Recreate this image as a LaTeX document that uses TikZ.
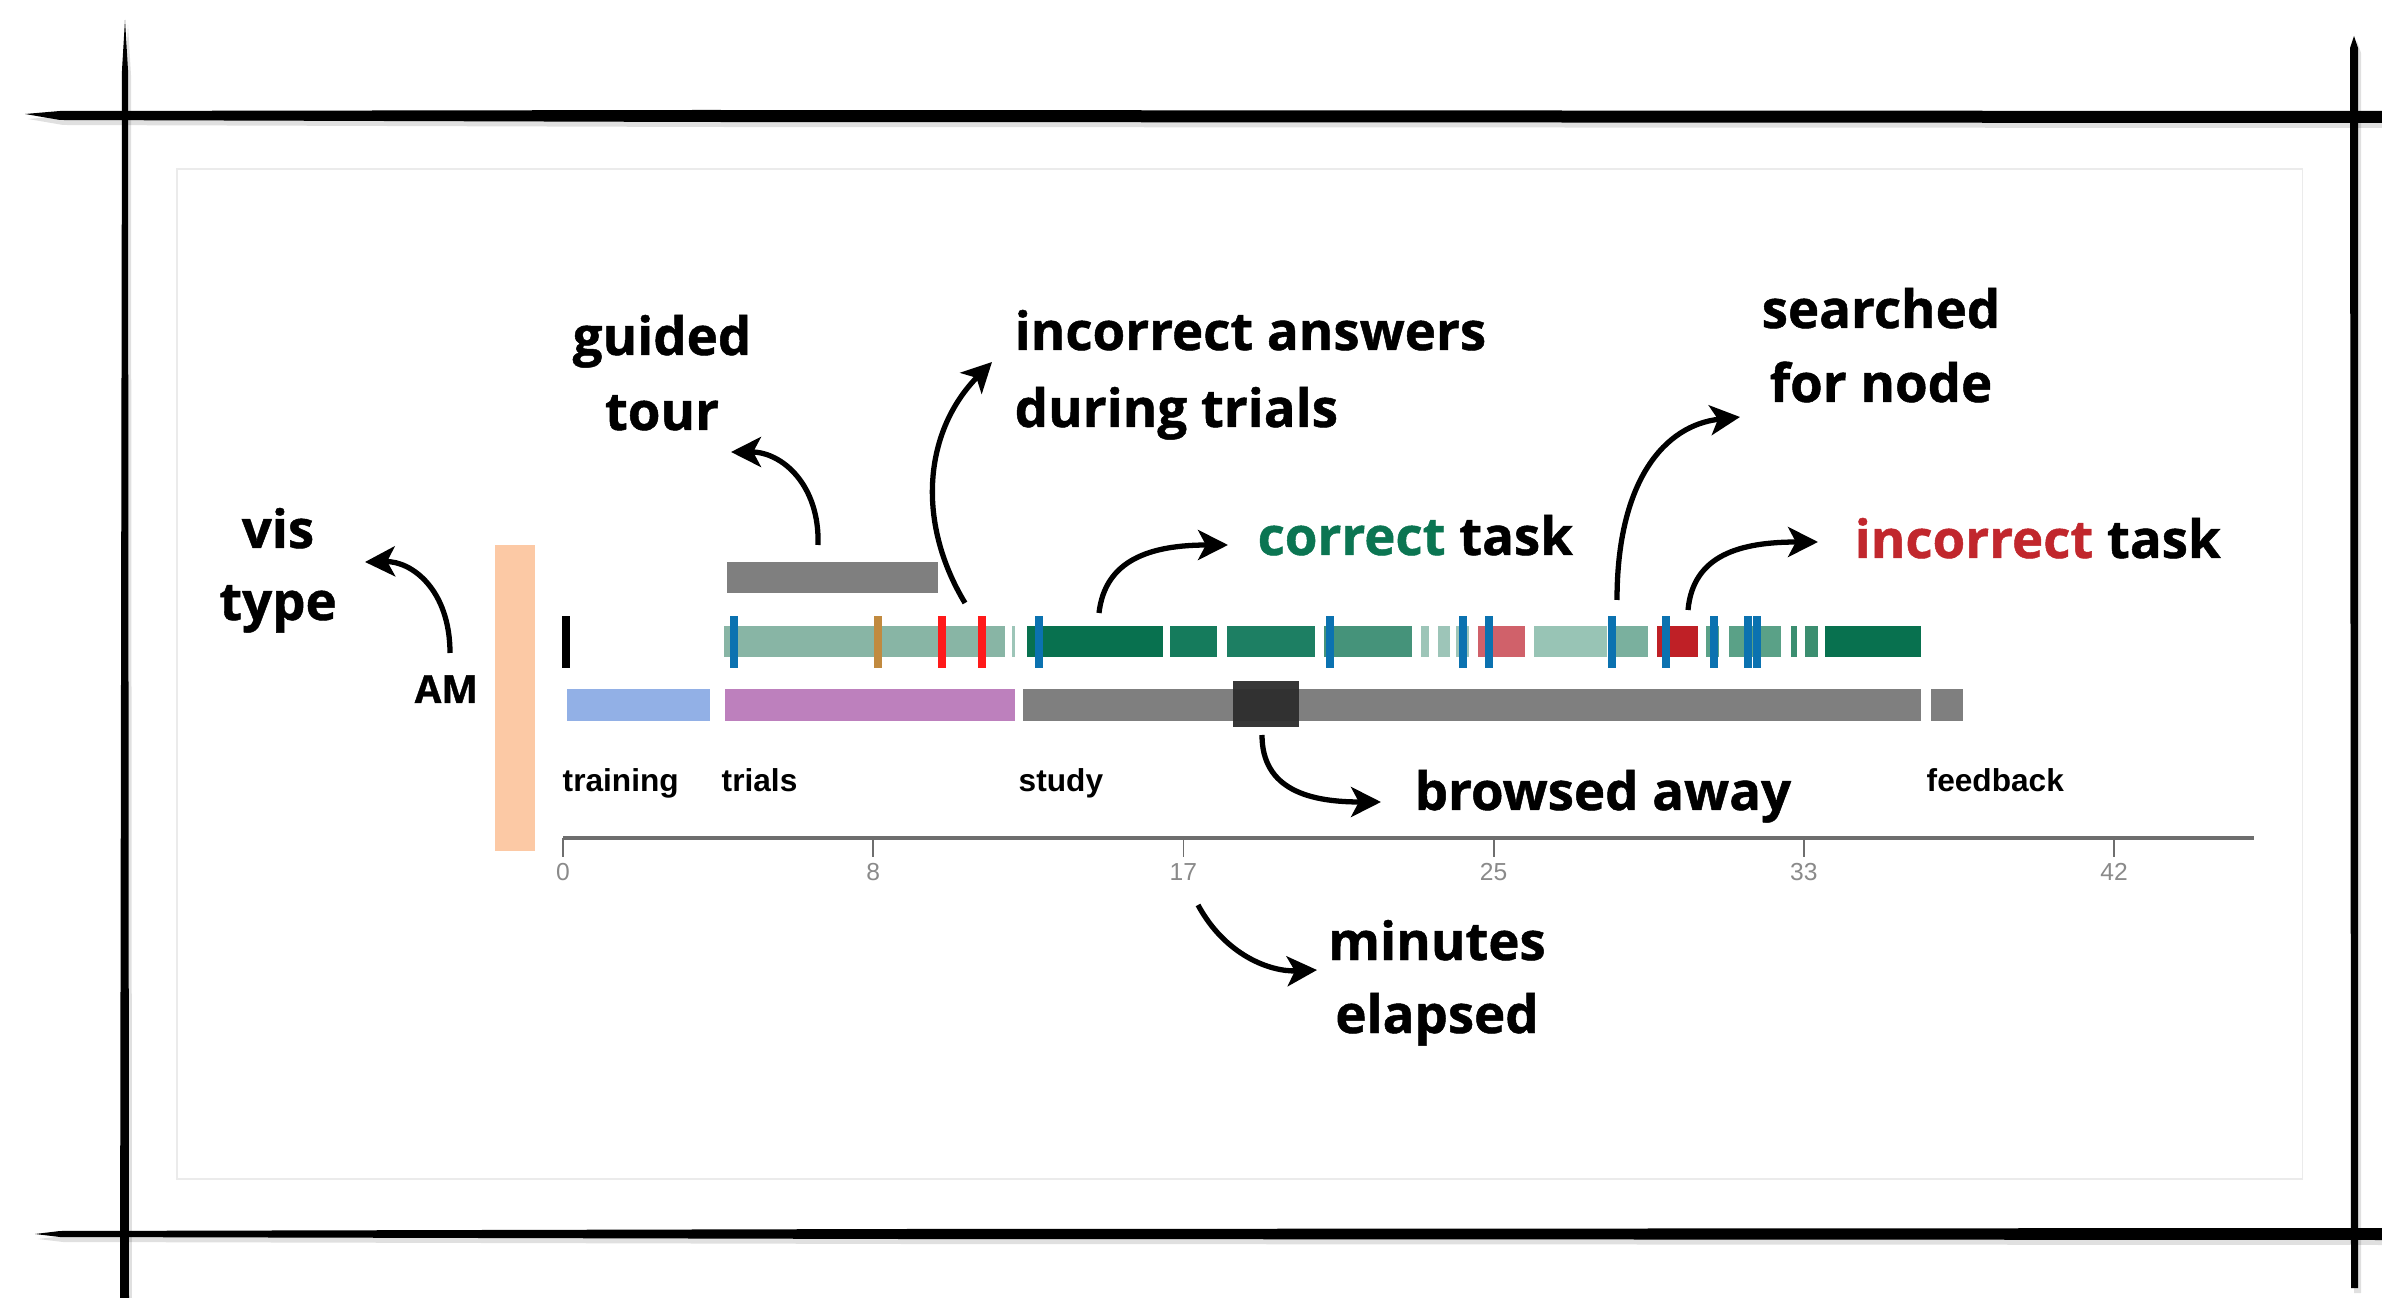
\documentclass[tikz,border=0pt]{standalone}
\usepackage{fontspec}
\setmainfont{Open Sans}[BoldFeatures={FakeBold=0.9}]
\newfontfamily\phasefont{Liberation Sans}
\usetikzlibrary{arrows.meta}

\definecolor{peach}{HTML}{FCC9A5}
\definecolor{trainblue}{HTML}{92B0E6}
\definecolor{trialpurple}{HTML}{BD80BD}
\definecolor{studygray}{HTML}{7F7F7F}
\definecolor{awaygray}{HTML}{2D2D2D}
\definecolor{trialgreen}{HTML}{88B5A5}
\definecolor{gA}{HTML}{08714F}
\definecolor{gB}{HTML}{157B5C}
\definecolor{gC}{HTML}{1D7F63}
\definecolor{gD}{HTML}{45937A}
\definecolor{gE}{HTML}{9DC5B8}
\definecolor{gF}{HTML}{98C4B5}
\definecolor{gG}{HTML}{7AB09E}
\definecolor{gH}{HTML}{5AA187}
\definecolor{gI}{HTML}{3B8E70}
\definecolor{pinkred}{HTML}{D0616A}
\definecolor{wrongred}{HTML}{BF2026}
\definecolor{markblue}{HTML}{0B72B0}
\definecolor{markorange}{HTML}{C18A3F}
\definecolor{markred}{HTML}{FF1A1A}
\definecolor{okgreen}{HTML}{0B7552}
\definecolor{badred}{HTML}{C1272D}
\definecolor{axisgray}{HTML}{6E6E6E}
\definecolor{tickgray}{HTML}{8A8A8A}

% one coloured stretch of the task track
\newcommand\trackseg[3]{\fill[#1] (#2,626) rectangle (#3,657);}
% one event marker crossing the task track
\newcommand\evtick[2]{\fill[#1] ({#2-4},616) rectangle ({#2+4},668);}

\begin{document}
\begin{tikzpicture}[x=0.01cm,y=-0.01cm,
  ann/.style={font=\fontsize{15}{18}\selectfont\bfseries, inner sep=0},
  phase/.style={font=\phasefont\fontsize{9}{11}\selectfont\bfseries, inner sep=0, anchor=base west},
  ticklab/.style={font=\phasefont\fontsize{7}{8}\selectfont, text=tickgray, inner sep=0, anchor=base},
  pointer/.style={line width=1.5pt, -{Stealth[length=8.5pt,width=8.5pt,inset=2.2pt]}},
  brush/.style={fill=black},
  brushshadow/.style={fill=black, opacity=0.12},
]
\useasboundingbox (0,0) rectangle (2382,1298);
\fill[white] (0,0) rectangle (2382,1298);

% ---- hand-drawn frame ----
\begin{scope}[shift={(3,5)}]
\fill[brushshadow] (25,114) -- (60,111) -- (700,110) -- (2382,111) -- (2382,123) -- (700,122) -- (60,120) -- cycle;
\fill[brushshadow] (35,1234) -- (60,1231) -- (900,1229) -- (2382,1228) -- (2382,1240) -- (900,1239) -- (60,1237) -- cycle;
\fill[brushshadow] (125,20) -- (128,70) -- (129,1298) -- (120,1298) -- (122,70) -- cycle;
\fill[brushshadow] (2354,36) -- (2358,48) -- (2358,1288) -- (2351,1288) -- (2350,48) -- cycle;
\end{scope}
\fill[brush] (25,114) -- (60,111) -- (700,110) -- (2382,111) -- (2382,123) -- (700,122) -- (60,120) -- cycle;
\fill[brush] (35,1234) -- (60,1231) -- (900,1229) -- (2382,1228) -- (2382,1240) -- (900,1239) -- (60,1237) -- cycle;
\fill[brush] (125,20) -- (128,70) -- (129,1298) -- (120,1298) -- (122,70) -- cycle;
\fill[brush] (2354,36) -- (2358,48) -- (2358,1288) -- (2351,1288) -- (2350,48) -- cycle;

% faint panel edge
\draw[black!8, line width=0.3pt] (177,169) rectangle (2302,1179);

% ---- visualisation type ----
\fill[peach] (495,545) rectangle (535,851);
\node[ann, font=\fontsize{11}{13}\selectfont\bfseries, anchor=base west] (am) at (414,703) {AM};
\node[ann, anchor=base] (vis) at (278,548) {vis};
\node[ann, anchor=base] (type) at (278,620) {type};

% ---- guided tour ----
\fill[studygray] (727,562) rectangle (938,593);
\node[ann, anchor=base] (guided) at (662,355) {guided};
\node[ann, anchor=base] (tour) at (662,430) {tour};

% ---- task track ----
\fill[black] (562,616) rectangle (570,668);
\trackseg{trialgreen}{724}{1005}
\trackseg{gE}{1012}{1015}
\trackseg{gA}{1027}{1163}
\trackseg{gB}{1170}{1217}
\trackseg{gC}{1227}{1315}
\trackseg{gD}{1324}{1412}
\trackseg{gE}{1421}{1429}
\trackseg{gE}{1438}{1450}
\trackseg{gE}{1456}{1469}
\trackseg{pinkred}{1478}{1525}
\trackseg{gF}{1534}{1607}
\trackseg{gG}{1612}{1648}
\trackseg{wrongred}{1657}{1698}
\trackseg{gH}{1706}{1719}
\trackseg{gH}{1729}{1781}
\trackseg{gI}{1791}{1797}
\trackseg{gI}{1805}{1818}
\trackseg{gA}{1825}{1921}

\evtick{markblue}{734}
\evtick{markorange}{878}
\evtick{markred}{942}
\evtick{markred}{982}
\evtick{markblue}{1039}
\evtick{markblue}{1330}
\evtick{markblue}{1463}
\evtick{markblue}{1489}
\evtick{markblue}{1612}
\evtick{markblue}{1666}
\evtick{markblue}{1714}
\evtick{markblue}{1748}
\evtick{markblue}{1757}

% ---- phase bars ----
\fill[trainblue] (567,689) rectangle (710,721);
\fill[trialpurple] (725,689) rectangle (1015,721);
\fill[studygray] (1023,689) rectangle (1921,721);
\fill[studygray] (1931,689) rectangle (1963,721);
\fill[awaygray, opacity=0.95] (1233,681) rectangle (1299,727);

\node[phase] (training) at (562,792) {training};
\node[phase] (trials) at (721,792) {trials};
\node[phase] (study) at (1018,792) {study};
\node[phase] (feedback) at (1926,792) {feedback};

% ---- time axis ----
\draw[axisgray, line width=0.9pt] (563,838) -- (2254,838);
\foreach \i/\lab in {0/0,1/8,2/17,3/25,4/33,5/42}{
  \draw[axisgray, line width=0.5pt] ({563+310.2*\i},838) -- ({563+310.2*\i},857);
  \node[ticklab] (tick\i) at ({563+310.2*\i},880) {\lab};
}

% ---- annotations ----
\node[ann, anchor=base west] (incans) at (1014,350) {incorrect answers};
\node[ann, anchor=base west] (during) at (1014,427) {during trials};
\node[ann, anchor=base west] (correct) at (1257,555) {{\color{okgreen}correct} task};
\node[ann, anchor=base] (searched) at (1881,328) {searched};
\node[ann, anchor=base] (fornode) at (1881,402) {for node};
\node[ann, anchor=base west] (incorrect) at (1854,558) {{\color{badred}incorrect} task};
\node[ann, anchor=base west] (browsed) at (1414,810) {browsed away};
\node[ann, anchor=base] (minutes) at (1437,960) {minutes};
\node[ann, anchor=base] (elapsed) at (1437,1033) {elapsed};

% arrow ends
\coordinate (visS) at (450,653);   \coordinate (visT) at (365,562);
\coordinate (tourS) at (818,545);  \coordinate (tourT) at (731,452);
\coordinate (ansS) at (965,603);   \coordinate (ansT) at (992,362);
\coordinate (corS) at (1099,613);  \coordinate (corT) at (1228,545);
\coordinate (srchS) at (1617,600); \coordinate (srchT) at (1740,417);
\coordinate (badS) at (1688,610);  \coordinate (badT) at (1818,542);
\coordinate (awayS) at (1262,735); \coordinate (awayT) at (1381,802);
\coordinate (minS) at (1198,905);  \coordinate (minT) at (1317,970);

\draw[pointer] (visS) .. controls (450,590) and (412,561) .. (visT);
\draw[pointer] (tourS) .. controls (820,485) and (782,452) .. (tourT);
\draw[pointer] (ansS) .. controls (915,520) and (925,430) .. (ansT);
\draw[pointer] (corS) .. controls (1105,560) and (1150,545) .. (corT);
\draw[pointer] (srchS) .. controls (1617,480) and (1665,425) .. (srchT);
\draw[pointer] (badS) .. controls (1693,555) and (1740,542) .. (badT);
\draw[pointer] (awayS) .. controls (1262,790) and (1310,802) .. (awayT);
\draw[pointer] (minS) .. controls (1225,955) and (1270,972) .. (minT);
\end{tikzpicture}
\end{document}
